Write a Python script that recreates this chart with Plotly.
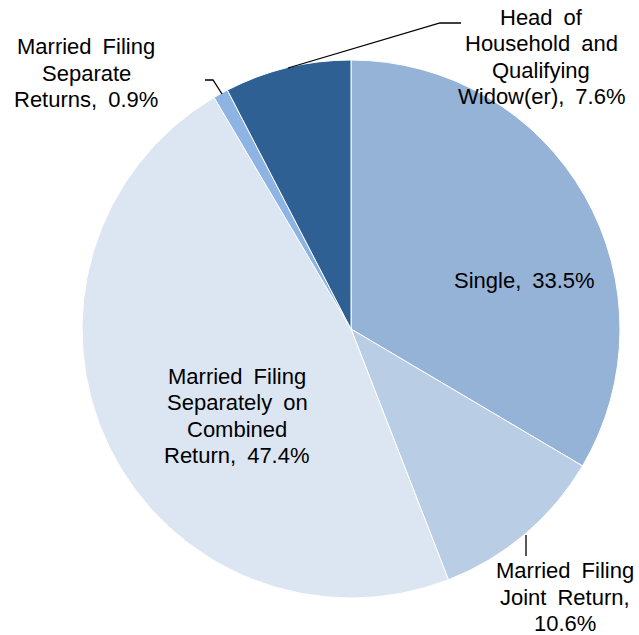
import plotly.graph_objects as go

categories = ["Single", "Married Filing Joint Return",
              "Married Filing Separately on Combined Return",
              "Married Filing Separate Returns",
              "Head of Household and Qualifying Widow(er)"]
values = [33.5, 10.6, 47.4, 0.9, 7.6]
colors = ["#95B3D7", "#B9CDE5", "#DCE6F2", "#8DB4E2", "#2E6093"]

# label line breaks as shown in the chart
label_lines = [
    ["Single, {v}%"],
    ["Married Filing", "Joint Return,", "{v}%"],
    ["Married Filing", "Separately on", "Combined", "Return, {v}%"],
    ["Married Filing", "Separate", "Returns, {v}%"],
    ["Head of", "Household and", "Qualifying", "Widow(er), {v}%"],
]
# label centres in pixels (x, y from top)
label_pos = [(524, 281), (565, 597), (237, 416), (86, 73), (541, 57)]

W, H = 639, 635
SP = "\u2002"
LH = 26.3

def px(x, y):
    return x / W, 1 - y / H

fig = go.Figure()
fig.add_trace(go.Pie(
    labels=categories, values=values, sort=False, direction="clockwise",
    rotation=0, textinfo="none", hoverinfo="label+percent",
    marker=dict(colors=colors, line=dict(color="white", width=1)),
    domain=dict(x=[82 / W, 620 / W], y=[1 - 598 / H, 1 - 60 / H]),
    showlegend=False,
))

annotations = []
for lines, (cx, cy), v in zip(label_lines, label_pos, values):
    n = len(lines)
    for i, l in enumerate(lines):
        text = l.format(v=v).replace(" ", SP)
        x, y = px(cx, cy + (i - (n - 1) / 2) * LH)
        annotations.append(dict(text=text, x=x, y=y, xref="paper", yref="paper",
                                showarrow=False, xanchor="center", yanchor="middle",
                                align="center",
                                font=dict(family="Liberation Sans, Arial", size=22,
                                          color="black")))

leaders = [
    [(288, 68), (440, 23), (461, 23)],
    [(222, 94), (213, 80), (205, 80)],
    [(526, 535), (526, 556)],
]
shapes = []
for pts in leaders:
    p = [px(a, b) for a, b in pts]
    path = "M " + " L ".join(f"{a},{b}" for a, b in p)
    shapes.append(dict(type="path", path=path, xref="paper", yref="paper",
                       line=dict(color="black", width=1.3)))

fig.update_layout(width=W, height=H, margin=dict(l=0, r=0, t=0, b=0),
                  paper_bgcolor="white", plot_bgcolor="white",
                  annotations=annotations, shapes=shapes)
fig.write_html("out.html", config={"displayModeBar": False},
               post_script="document.body.style.margin='0';document.body.style.overflow='hidden';")
